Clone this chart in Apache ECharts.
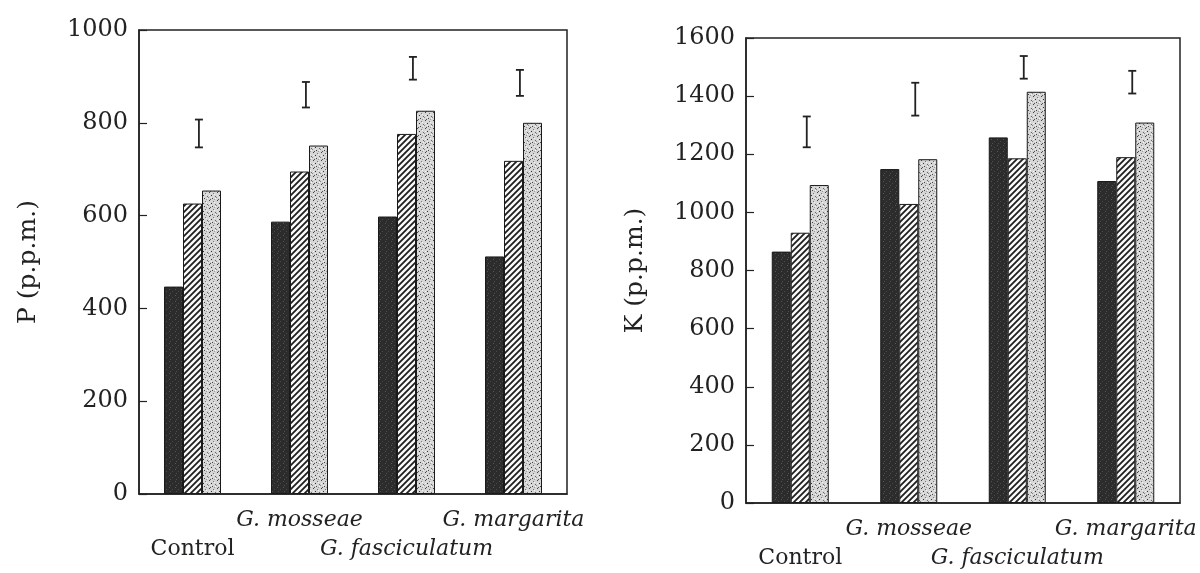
<!DOCTYPE html>
<html>
<head>
<meta charset="utf-8">
<script src="https://cdn.jsdelivr.net/npm/echarts@6/dist/echarts.min.js"></script>
<style>
html,body{margin:0;padding:0;background:#fff;}
#chart{width:1200px;height:573px;}
</style>
</head>
<body>
<div id="chart"></div>
<script>
// ---- data ----
const categories = ['Control', 'G. mosseae', 'G. fasciculatum', 'G. margarita'];
const pDark = [447, 587, 598, 512];
const pHatched = [626, 695, 776, 718];
const pStippled = [654, 751, 826, 800];
const pErrLow = [747, 833, 893, 858];
const pErrHigh = [807, 888, 942, 914];
const kDark = [865, 1149, 1258, 1108];
const kHatched = [930, 1029, 1186, 1190];
const kStippled = [1094, 1183, 1415, 1309];
const kErrLow = [1224, 1333, 1460, 1409];
const kErrHigh = [1330, 1446, 1538, 1487];
const pTicks = { min: 0, max: 1000, interval: 200 };
const kTicks = { min: 0, max: 1600, interval: 200 };

// ---- patterns ----
function hatchPattern() {
  const s = 6, c = document.createElement('canvas');
  c.width = s; c.height = s;
  const g = c.getContext('2d');
  g.fillStyle = '#fafafa'; g.fillRect(0, 0, s, s);
  g.strokeStyle = '#1e1e1e'; g.lineWidth = 1.8;
  g.beginPath();
  g.moveTo(-1, s + 1); g.lineTo(s + 1, -1);
  g.moveTo(-1, 1); g.lineTo(1, -1);
  g.moveTo(s - 1, s + 1); g.lineTo(s + 1, s - 1);
  g.stroke();
  return c;
}
function stipplePattern() {
  const s = 8, c = document.createElement('canvas');
  c.width = s; c.height = s;
  const g = c.getContext('2d');
  g.fillStyle = '#d6d6d6'; g.fillRect(0, 0, s, s);
  const dots = [[1,0,'#444'],[5,1,'#777'],[3,3,'#333'],[7,4,'#666'],[0,5,'#888'],[4,6,'#444'],[6,7,'#999'],[2,7,'#555'],[6,2,'#f2f2f2'],[1,3,'#f0f0f0'],[3,5,'#eee'],[7,6,'#f4f4f4']];
  dots.forEach(d => { g.fillStyle = d[2]; g.fillRect(d[0], d[1], 1, 1); });
  return c;
}
function darkPattern() {
  const s = 6, c = document.createElement('canvas');
  c.width = s; c.height = s;
  const g = c.getContext('2d');
  g.fillStyle = '#2c2c2c'; g.fillRect(0, 0, s, s);
  const dots = [[1,1,'#555'],[4,3,'#4a4a4a'],[2,5,'#505050']];
  dots.forEach(d => { g.fillStyle = d[2]; g.fillRect(d[0], d[1], 1, 1); });
  return c;
}
const hatchImg = hatchPattern(), stipImg = stipplePattern(), darkImg = darkPattern();

const FONT = 'DejaVu Serif';
const INK = '#222';

function catAxis(gi) {
  return {
    type: 'category', gridIndex: gi, data: categories,
    axisLine: { lineStyle: { color: INK, width: 1.5 } },
    axisTick: { show: false },
    axisLabel: {
      interval: 0, margin: 12, color: INK, fontFamily: FONT, fontSize: 22, lineHeight: 29,
      formatter: function (v, i) {
        const style = i === 0 ? 'n' : 'it';
        return i % 2 === 0 ? '\n{' + style + '|' + v + '}' : '{' + style + '|' + v + '}';
      },
      rich: {
        n: { fontFamily: FONT, fontSize: 22, color: INK, lineHeight: 29 },
        it: { fontFamily: FONT, fontSize: 22, fontStyle: 'italic', color: INK, lineHeight: 29 }
      }
    }
  };
}
function valAxis(gi, t, name) {
  return {
    type: 'value', gridIndex: gi, min: t.min, max: t.max, interval: t.interval,
    name: name, nameLocation: 'middle', nameGap: 98, nameRotate: 90,
    nameTextStyle: { fontFamily: FONT, fontSize: 25, color: INK },
    axisLine: { show: true, lineStyle: { color: INK, width: 1.5 } },
    axisTick: { show: true, inside: true, length: 8, lineStyle: { color: INK, width: 1.2 } },
    splitLine: { show: false },
    axisLabel: { margin: 11, color: INK, fontFamily: FONT, fontSize: 24, formatter: v => String(v) }
  };
}
function bar(gi, data, img) {
  return {
    type: 'bar', xAxisIndex: gi, yAxisIndex: gi, data: data,
    barWidth: 19, barGap: '0%',
    itemStyle: { color: { image: img, repeat: 'repeat' }, borderColor: '#1a1a1a', borderWidth: 1 },
    silent: true
  };
}
function errSeries(gi, low, high) {
  return {
    type: 'custom', xAxisIndex: gi, yAxisIndex: gi, silent: true, z: 5,
    data: categories.map((c, i) => [i, low[i], high[i]]),
    renderItem: function (params, api) {
      const a = api.coord([api.value(0), api.value(1)]);
      const b = api.coord([api.value(0), api.value(2)]);
      const band = api.size([1, 0])[0];
      const cx = a[0] + band * 0.06;
      const w = 4;
      const st = { stroke: INK, lineWidth: 1.8 };
      return {
        type: 'group', children: [
          { type: 'line', shape: { x1: cx, y1: a[1], x2: cx, y2: b[1] }, style: st },
          { type: 'line', shape: { x1: cx - w, y1: b[1], x2: cx + w, y2: b[1] }, style: st },
          { type: 'line', shape: { x1: cx - w, y1: a[1], x2: cx + w, y2: a[1] }, style: st }
        ]
      };
    }
  };
}

const chart = echarts.init(document.getElementById('chart'), null, { renderer: 'canvas' });
chart.setOption({
  backgroundColor: '#ffffff',
  animation: false,
  grid: [
    { left: 139, top: 30, width: 428, height: 464, show: true, borderColor: INK, borderWidth: 1.5 },
    { left: 746, top: 38, width: 434, height: 466, show: true, borderColor: INK, borderWidth: 1.5 }
  ],
  xAxis: [catAxis(0), catAxis(1)],
  yAxis: [valAxis(0, pTicks, 'P (p.p.m.)'), valAxis(1, kTicks, 'K (p.p.m.)')],
  series: [
    bar(0, pDark, darkImg), bar(0, pHatched, hatchImg), bar(0, pStippled, stipImg),
    bar(1, kDark, darkImg), bar(1, kHatched, hatchImg), bar(1, kStippled, stipImg),
    errSeries(0, pErrLow, pErrHigh), errSeries(1, kErrLow, kErrHigh)
  ]
});
</script>
</body>
</html>
